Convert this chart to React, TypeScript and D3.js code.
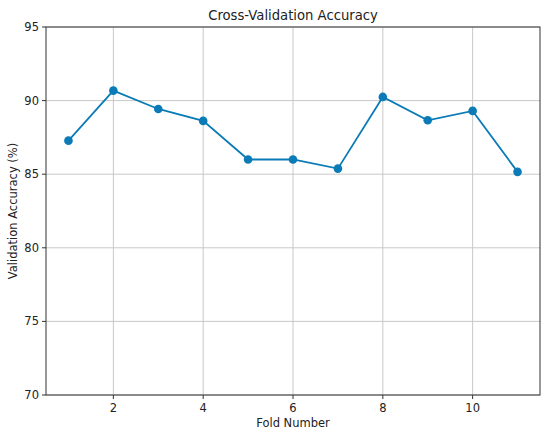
import React from "react";
import * as d3 from "d3";

const folds = [1, 2, 3, 4, 5, 6, 7, 8, 9, 10, 11];
const accuracy = [87.28, 90.68, 89.43, 88.62, 86.0, 86.0, 85.38, 90.25, 88.66, 89.3, 85.16];
const xTicks = [2, 4, 6, 8, 10];
const yTicks = [70, 75, 80, 85, 90, 95];

const W = 550;
const H = 435;
const margin = { top: 27, right: 10, bottom: 40, left: 46 };
const color = "#0a7bb6";
const font = "DejaVu Sans, sans-serif";

const App = () => {
  const innerW = W - margin.left - margin.right;
  const innerH = H - margin.top - margin.bottom;

  const x = d3.scaleLinear().domain([0.5, 11.5]).range([0, innerW]);
  const y = d3.scaleLinear().domain([70, 95]).range([innerH, 0]);

  const points = folds.map((f, i) => [f, accuracy[i]] as [number, number]);
  const line = d3
    .line<[number, number]>()
    .x((d) => x(d[0]))
    .y((d) => y(d[1]));

  return (
    <svg
      width={W}
      height={H}
      style={{ position: "absolute", left: 0, top: 0, background: "#fff" }}
      fontFamily={font}
    >
      <text x={margin.left + innerW / 2} y={20} textAnchor="middle" fontSize={13.2} fill="#222">
        Cross-Validation Accuracy
      </text>
      <g transform={`translate(${margin.left},${margin.top})`}>
        {/* grid */}
        {xTicks.map((t) => (
          <line key={"gx" + t} x1={x(t)} x2={x(t)} y1={0} y2={innerH} stroke="#c8c8c8" strokeWidth={1} />
        ))}
        {yTicks.map((t) => (
          <line key={"gy" + t} x1={0} x2={innerW} y1={y(t)} y2={y(t)} stroke="#c8c8c8" strokeWidth={1} />
        ))}

        <path d={line(points) || ""} fill="none" stroke={color} strokeWidth={1.8} />
        {points.map((d, i) => (
          <circle key={i} cx={x(d[0])} cy={y(d[1])} r={4.3} fill={color} />
        ))}

        <rect x={0} y={0} width={innerW} height={innerH} fill="none" stroke="#333" strokeWidth={1} />

        {/* x ticks */}
        {xTicks.map((t) => (
          <g key={"xt" + t} transform={`translate(${x(t)},${innerH})`}>
            <line y1={0} y2={4} stroke="#333" />
            <text y={16.5} textAnchor="middle" fontSize={11.5} fill="#222">
              {t}
            </text>
          </g>
        ))}
        {/* y ticks */}
        {yTicks.map((t) => (
          <g key={"yt" + t} transform={`translate(0,${y(t)})`}>
            <line x1={-4} x2={0} stroke="#333" />
            <text x={-7} dy="0.35em" textAnchor="end" fontSize={11.5} fill="#222">
              {t}
            </text>
          </g>
        ))}
      </g>
      <text x={margin.left + innerW / 2} y={427} textAnchor="middle" fontSize={11.5} fill="#222">
        Fold Number
      </text>
      <text
        transform={`translate(17,${margin.top + innerH / 2}) rotate(-90)`}
        textAnchor="middle"
        fontSize={11.5}
        fill="#222"
      >
        Validation Accuracy (%)
      </text>
    </svg>
  );
};

export default App;
